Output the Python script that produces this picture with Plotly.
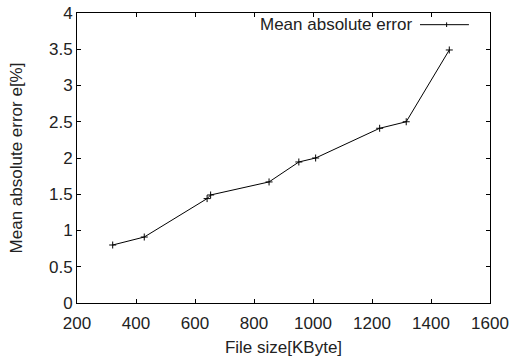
import plotly.graph_objects as go

file_size_kb = [321, 428, 641, 653, 851, 952, 1009, 1226, 1316, 1462]
mean_abs_error = [0.80, 0.91, 1.44, 1.49, 1.67, 1.945, 2.00, 2.41, 2.50, 3.49]

x_tick_vals = [200, 400, 600, 800, 1000, 1200, 1400, 1600]
x_tick_text = ["200", "400", "600", "800", "1000", "1200", "1400", "1600"]
y_tick_vals = [0, 0.5, 1, 1.5, 2, 2.5, 3, 3.5, 4]
y_tick_text = ["0", "0.5", "1", "1.5", "2", "2.5", "3", "3.5", "4"]

series_name = "Mean absolute error"
FONT = "Liberation Sans, Arial, sans-serif"

fig = go.Figure()
fig.add_trace(go.Scatter(
    x=file_size_kb, y=mean_abs_error, mode="lines+markers", name=series_name,
    line=dict(color="black", width=1),
    marker=dict(symbol="cross-thin", size=5, line=dict(color="black", width=1), color="black"),
    showlegend=False,
))

axis_common = dict(
    showline=True, linecolor="black", linewidth=1, mirror="ticks",
    ticks="inside", ticklen=4, tickcolor="black", tickwidth=1,
    showgrid=False, zeroline=False, automargin=False,
    ticklabeloverflow="allow",
    tickfont=dict(family=FONT, size=17, color="#222"),
)

fig.update_layout(
    width=509, height=358,
    margin=dict(l=77, r=19, t=13, b=55),
    paper_bgcolor="white", plot_bgcolor="white",
    font=dict(family=FONT, size=17, color="#222"),
    xaxis=dict(range=[200, 1600], tickvals=x_tick_vals, ticktext=x_tick_text,
               ticklabelstandoff=5,
               title=dict(text="File size[KByte]", font=dict(family=FONT, size=17), standoff=8),
               **axis_common),
    yaxis=dict(range=[0, 4], tickvals=y_tick_vals, ticktext=y_tick_text,
               title=dict(text="Mean absolute error e[%]", font=dict(family=FONT, size=17), standoff=22),
               **axis_common),
    showlegend=False,
)

# gnuplot-style key: text followed by line sample
fig.add_annotation(xref="paper", yref="paper", x=0.816, y=0.9597, text=series_name,
                   showarrow=False, xanchor="right", yanchor="middle",
                   font=dict(family=FONT, size=17, color="#222"))
fig.add_shape(type="line", xref="paper", yref="paper", x0=0.8305, x1=0.949, y0=0.9597, y1=0.9597,
              line=dict(color="black", width=1))
fig.add_shape(type="line", xref="paper", yref="paper", x0=0.895, x1=0.895, y0=0.9597 - 0.008, y1=0.9597 + 0.008,
              line=dict(color="black", width=1))

fig.write_html(
    "out.html",
    config={"displayModeBar": False},
    post_script="document.body.style.margin='0';document.body.style.overflow='hidden';",
)
